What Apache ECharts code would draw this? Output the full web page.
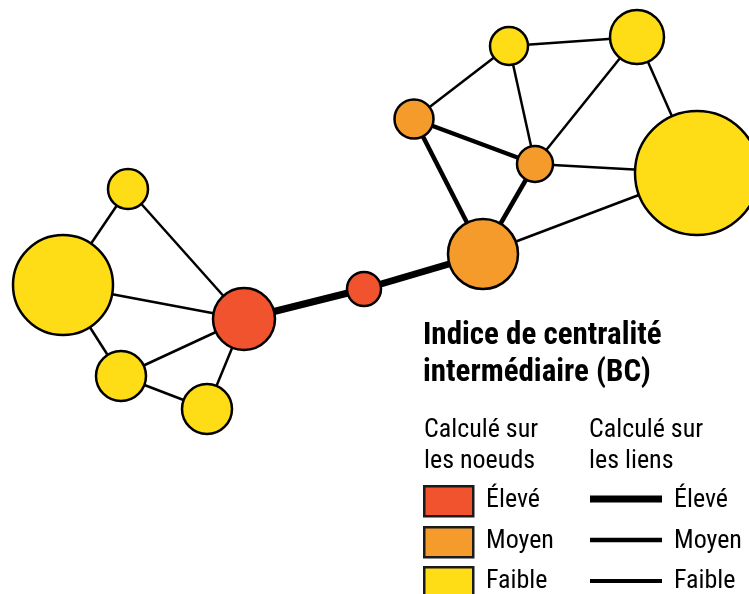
<!DOCTYPE html>
<html>
<head>
<meta charset="utf-8">
<script src="https://cdn.jsdelivr.net/npm/echarts@6/dist/echarts.min.js"></script>
<style>
  html, body { margin: 0; padding: 0; background: #fff; }
  #chart { width: 749px; height: 594px; }
</style>
</head>
<body>
<div id="chart"></div>
<script>
// noeuds : nom, position (x, y), diamètre, niveau de BC
const nodeNames = ['A', 'B', 'C', 'D', 'E', 'M', 'K', 'H', 'I', 'F', 'G', 'J']
const nodeX = [128, 63, 244, 121, 207, 364, 483, 414, 535, 509, 637, 697]
const nodeY = [189, 285, 319, 376, 409, 289, 254, 119, 164, 46, 37, 173]
const nodeSize = [40, 100, 62, 50, 50, 34, 70, 39, 36, 38, 54, 124]
const nodeLevel = ['faible', 'faible', 'eleve', 'faible', 'faible', 'eleve', 'moyen', 'moyen', 'moyen', 'faible', 'faible', 'faible']

// liens : source, cible, niveau de BC
const linkSource = ['A', 'A', 'B', 'B', 'D', 'D', 'E', 'C', 'M', 'K', 'K', 'H', 'H', 'F', 'F', 'G', 'G', 'I', 'K']
const linkTarget = ['B', 'C', 'C', 'D', 'C', 'E', 'C', 'M', 'K', 'H', 'I', 'I', 'F', 'I', 'G', 'I', 'J', 'J', 'J']
const linkLevel = ['faible', 'faible', 'faible', 'faible', 'faible', 'faible', 'faible', 'eleve', 'eleve', 'moyen', 'moyen', 'moyen', 'faible', 'faible', 'faible', 'faible', 'faible', 'faible', 'faible']

const levelColor = { eleve: '#F0532D', moyen: '#F59B2B', faible: '#FEDD17' }
const levelWidth = { eleve: 7, moyen: 4.5, faible: 2.5 }

const FONT = "'Roboto Condensed', 'Liberation Sans Narrow', Roboto, sans-serif"

const nodes = nodeNames.map((n, i) => ({
  name: n,
  value: [nodeX[i], nodeY[i]],
  symbolSize: nodeSize[i],
  itemStyle: { color: levelColor[nodeLevel[i]] }
}))

const links = linkSource.map((s, i) => ({
  source: s,
  target: linkTarget[i],
  lineStyle: { width: levelWidth[linkLevel[i]] }
}))

// légende
const txt = (x, y, text, size, weight) => ({
  type: 'text', left: x, top: y, silent: true,
  style: { text: text, fill: '#000', font: (weight || 'normal') + ' ' + size + 'px ' + FONT }
})
const box = (y, level) => ({
  type: 'rect', left: 423, top: y, silent: true,
  shape: { width: 49, height: 30 },
  style: { fill: levelColor[level], stroke: '#1a1a1a', lineWidth: 2.5 }
})
const line = (y, level) => ({
  type: 'line', silent: true,
  shape: { x1: 590, y1: y, x2: 662, y2: y },
  style: { stroke: '#000', lineWidth: levelWidth[level] === 2.5 ? 4 : levelWidth[level] }
})

const chart = echarts.init(document.getElementById('chart'))
chart.setOption({
  animation: false,
  grid: { left: 0, right: 0, top: 0, bottom: 0 },
  xAxis: { type: 'value', min: 0, max: 749, show: false },
  yAxis: { type: 'value', min: 0, max: 594, inverse: true, show: false },
  series: [{
    type: 'graph',
    coordinateSystem: 'cartesian2d',
    symbol: 'circle',
    data: nodes,
    links: links,
    itemStyle: { borderColor: '#000', borderWidth: 2.5 },
    lineStyle: { color: '#000', opacity: 1, curveness: 0 },
    label: { show: false },
    emphasis: { disabled: true }
  }],
  graphic: [
    txt(423, 321, 'Indice de centralité', 31, 'bold'),
    txt(423, 358, 'intermédiaire (BC)', 31, 'bold'),
    txt(424, 417, 'Calculé sur', 26),
    txt(424, 448, 'les noeuds', 26),
    txt(589, 417, 'Calculé sur', 26),
    txt(589, 448, 'les liens', 26),
    box(485, 'eleve'), box(526, 'moyen'), box(566, 'faible'),
    txt(486, 487, 'Élevé', 26),
    txt(486, 528, 'Moyen', 26),
    txt(486, 568, 'Faible', 26),
    line(499, 'eleve'), line(540, 'moyen'), line(581, 'faible'),
    txt(674, 487, 'Élevé', 26),
    txt(674, 528, 'Moyen', 26),
    txt(674, 568, 'Faible', 26)
  ]
})
</script>
</body>
</html>
